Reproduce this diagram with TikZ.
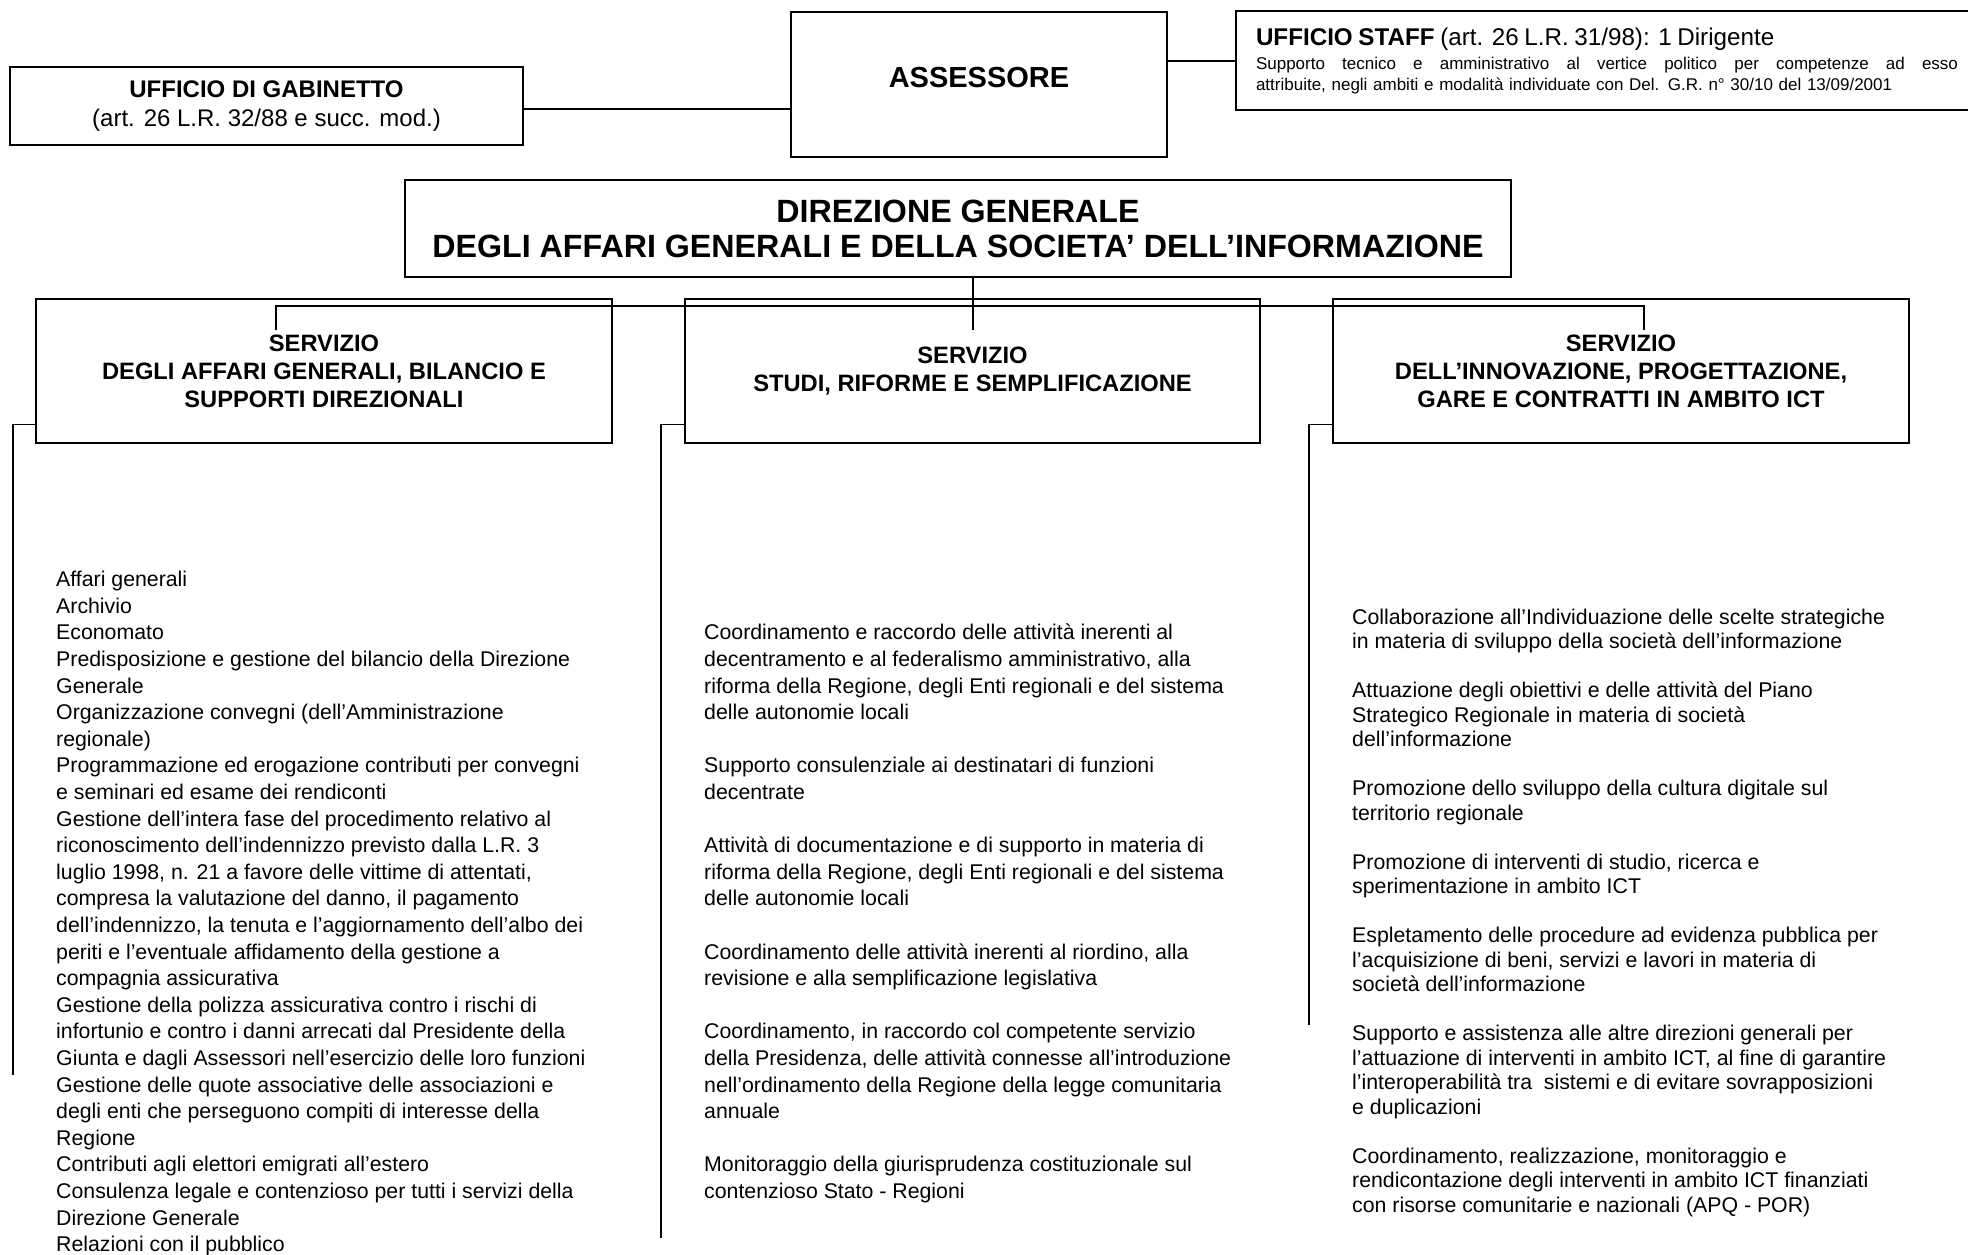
\documentclass[tikz,border=0pt]{standalone}
\usepackage{fontspec}
\setmainfont{Liberation Sans}
\tikzstyle{base} = [draw, text centered, inner sep=0pt]
\tikzstyle{vertice} = [base, line width=2pt]
\tikzstyle{servizio} = [base, line width=1.3pt, minimum height=144, align=center, font=\bfseries\fontsize{23.7}{28}\selectfont]
\tikzstyle{compiti} = [anchor=north west, inner sep=0pt, align=left, font=\fontsize{21.3}{26.6}\selectfont]
\tikzstyle{connector} = [draw, line width=2pt]
\tikzstyle{link} = [draw, line width=1.4pt]

\begin{document}
\begin{tikzpicture}[x=1pt, y=-1pt]
	\useasboundingbox (0,0) rectangle (1968,1255);

	\node [vertice, minimum width=376, minimum height=145, text height=20.8pt, text depth=15pt, font=\bfseries\fontsize{29}{34}\selectfont] at (979, 84.5) (assessore) {ASSESSORE};
	\node [vertice, minimum width=513, minimum height=78, align=center, font=\fontsize{24}{29}\selectfont] at (266.5, 106) (gabinetto) {\textbf{UFFICIO DI GABINETTO}\\(art. 26 L.R. 32/88 e succ. mod.)};
	\node [vertice, minimum height=99, inner xsep=20pt, text width=702pt, align=left, font=\fontsize{17}{21}\selectfont] at (1607, 60.5) (staff) {{\fontsize{24.2}{25}\selectfont\textbf{UFFICIO STAFF} (art. 26 L.R. 31/98): 1 Dirigente}\\[3pt]
		\makebox[702pt][s]{\spaceskip=0.278em plus 1fil Supporto tecnico e amministrativo al vertice politico per competenze ad esso}\\
		attribuite, negli ambiti e modalità individuate con Del. G.R. n° 30/10 del 13/09/2001};
	\node [vertice, minimum width=1106, minimum height=97, align=center, font=\bfseries\fontsize{32.2}{35}\selectfont] at (958, 228.5) (direzione) {DIREZIONE GENERALE\\DEGLI AFFARI GENERALI E DELLA SOCIETA’ DELL’INFORMAZIONE};

	\path [connector] ([yshift=-3pt]gabinetto.east) -- ([yshift=-3pt]gabinetto.east -| assessore.west);
	\path [connector] ([yshift=23.5pt]assessore.east) -- ([yshift=23.5pt]assessore.east -| staff.west);

	% servizi
	\node [servizio, minimum width=576] at (324, 371) (servizio1) {SERVIZIO\\DEGLI AFFARI GENERALI, BILANCIO E\\SUPPORTI DIREZIONALI};
	\node [servizio, minimum width=575] at (972.5, 371) (servizio2) {SERVIZIO\\STUDI, RIFORME E SEMPLIFICAZIONE};
	\node [servizio, minimum width=576] at (1621, 371) (servizio3) {SERVIZIO\\DELL’INNOVAZIONE, PROGETTAZIONE,\\GARE E CONTRATTI IN AMBITO ICT};

	\coordinate (bus) at (973, 306);
	\coordinate (drop1) at (276, 330);
	\coordinate (drop2) at (973, 330);
	\coordinate (drop3) at (1644, 330);
	\path [connector] (direzione.south -| drop2) -- (drop2);
	\path [connector] (drop1) |- (bus) -| (drop3);

	\coordinate (tail1) at (13, 1075);
	\coordinate (tail2) at (661, 1238);
	\coordinate (tail3) at (1309, 1025);
	\path [link] ([yshift=19pt]servizio1.south west) -| (tail1);
	\path [link] ([yshift=19pt]servizio2.south west) -| (tail2);
	\path [link] ([yshift=19pt]servizio3.south west) -| (tail3);

	% competenze
	\node [compiti] at (56, 571) (compiti1) {Affari generali\\
		Archivio\\
		Economato\\
		Predisposizione e gestione del bilancio della Direzione\\
		Generale\\
		Organizzazione convegni (dell’Amministrazione\\
		regionale)\\
		Programmazione ed erogazione contributi per convegni\\
		e seminari ed esame dei rendiconti\\
		Gestione dell’intera fase del procedimento relativo al\\
		riconoscimento dell’indennizzo previsto dalla L.R. 3\\
		luglio 1998, n. 21 a favore delle vittime di attentati,\\
		compresa la valutazione del danno, il pagamento\\
		dell’indennizzo, la tenuta e l’aggiornamento dell’albo dei\\
		periti e l’eventuale affidamento della gestione a\\
		compagnia assicurativa\\
		Gestione della polizza assicurativa contro i rischi di\\
		infortunio e contro i danni arrecati dal Presidente della\\
		Giunta e dagli Assessori nell’esercizio delle loro funzioni\\
		Gestione delle quote associative delle associazioni e\\
		degli enti che perseguono compiti di interesse della\\
		Regione\\
		Contributi agli elettori emigrati all’estero\\
		Consulenza legale e contenzioso per tutti i servizi della\\
		Direzione Generale\\
		Relazioni con il pubblico};

	\node [compiti] at (704, 624) (compiti2) {Coordinamento e raccordo delle attività inerenti al\\
		decentramento e al federalismo amministrativo, alla\\
		riforma della Regione, degli Enti regionali e del sistema\\
		delle autonomie locali\\[26.6pt]
		Supporto consulenziale ai destinatari di funzioni\\
		decentrate\\[26.6pt]
		Attività di documentazione e di supporto in materia di\\
		riforma della Regione, degli Enti regionali e del sistema\\
		delle autonomie locali\\[26.6pt]
		Coordinamento delle attività inerenti al riordino, alla\\
		revisione e alla semplificazione legislativa\\[26.6pt]
		Coordinamento, in raccordo col competente servizio\\
		della Presidenza, delle attività connesse all’introduzione\\
		nell’ordinamento della Regione della legge comunitaria\\
		annuale\\[26.6pt]
		Monitoraggio della giurisprudenza costituzionale sul\\
		contenzioso Stato - Regioni};

	\node [compiti, font=\fontsize{21.3}{24.5}\selectfont] at (1352, 608.5) (compiti3) {Collaborazione all’Individuazione delle scelte strategiche\\
		in materia di sviluppo della società dell’informazione\\[24.5pt]
		Attuazione degli obiettivi e delle attività del Piano\\
		Strategico Regionale in materia di società\\
		dell’informazione\\[24.5pt]
		Promozione dello sviluppo della cultura digitale sul\\
		territorio regionale\\[24.5pt]
		Promozione di interventi di studio, ricerca e\\
		sperimentazione in ambito ICT\\[24.5pt]
		Espletamento delle procedure ad evidenza pubblica per\\
		l’acquisizione di beni, servizi e lavori in materia di\\
		società dell’informazione\\[24.5pt]
		Supporto e assistenza alle altre direzioni generali per\\
		l’attuazione di interventi in ambito ICT, al fine di garantire\\
		l’interoperabilità tra \ sistemi e di evitare sovrapposizioni\\
		e duplicazioni\\[24.5pt]
		Coordinamento, realizzazione, monitoraggio e\\
		rendicontazione degli interventi in ambito ICT finanziati\\
		con risorse comunitarie e nazionali (APQ - POR)};

\end{tikzpicture}
\end{document}
